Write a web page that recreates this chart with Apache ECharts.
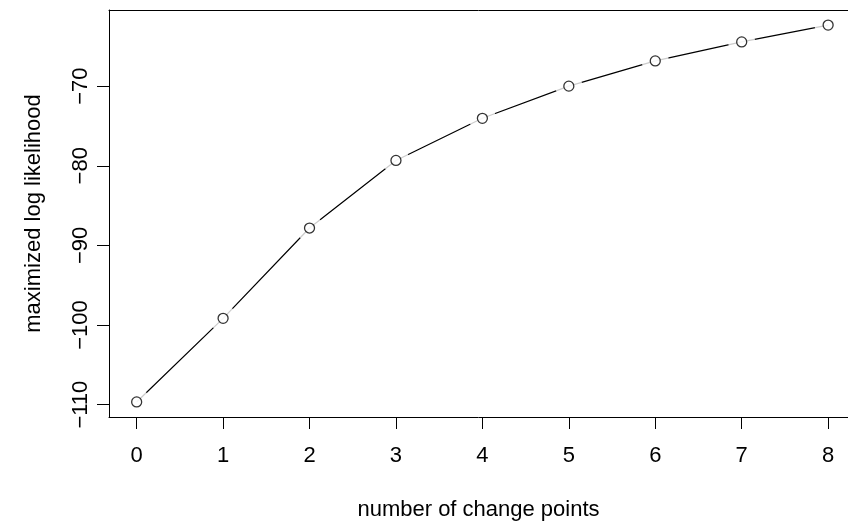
<!DOCTYPE html>
<html>
<head>
<meta charset="utf-8">
<script src="https://cdn.jsdelivr.net/npm/echarts@6/dist/echarts.min.js"></script>
<style>
  html, body { margin: 0; padding: 0; background: #fff; }
  #main { width: 848px; height: 526px; }
</style>
</head>
<body>
<div id="main"></div>
<script>
  // number of change points vs maximized log likelihood
  const changePoints = [0, 1, 2, 3, 4, 5, 6, 7, 8];
  const logLik = [-109.66, -99.16, -87.82, -79.33, -74.04, -70.0, -66.83, -64.45, -62.33];
  const xTicks = [0, 1, 2, 3, 4, 5, 6, 7, 8];
  const yTicks = [-110, -100, -90, -80, -70];

  const points = changePoints.map((x, i) => [x, logLik[i]]);
  const font = '"Liberation Sans", Arial, Helvetica, sans-serif';
  const minus = v => String(v).replace('-', '\u2212');
  const black = { color: '#000', width: 1 };

  // plot box runs past the right edge of the picture, as in the original
  const xMin = -0.32, xMax = 8.23;
  const yMin = -111.55, yMax = -60.44;

  const chart = echarts.init(document.getElementById('main'));
  chart.setOption({
    animation: false,
    backgroundColor: '#fff',
    grid: { left: 109, top: 10, right: 0, bottom: 107 },
    xAxis: [
      {
        type: 'value',
        min: xMin, max: xMax,
        name: 'number of change points',
        nameLocation: 'middle',
        nameGap: 82,
        nameTextStyle: { fontFamily: font, fontSize: 22, color: '#000' },
        splitLine: { show: false },
        axisLine: { show: true, onZero: false, lineStyle: black },
        axisTick: { show: true, customValues: xTicks, length: 12, lineStyle: black },
        axisLabel: { customValues: xTicks, fontFamily: font, fontSize: 22, color: '#000', margin: 28 }
      },
      {
        // top edge of the box
        type: 'value',
        position: 'top',
        min: xMin, max: xMax,
        splitLine: { show: false },
        axisLine: { show: true, onZero: false, lineStyle: black },
        axisTick: { show: false },
        axisLabel: { show: false }
      }
    ],
    yAxis: {
      type: 'value',
      min: yMin, max: yMax,
      name: 'maximized log likelihood',
      nameLocation: 'middle',
      nameGap: 64,
      nameRotate: 90,
      nameTextStyle: { fontFamily: font, fontSize: 22, color: '#000' },
      splitLine: { show: false },
      axisLine: { show: true, onZero: false, lineStyle: black },
      axisTick: { show: true, customValues: yTicks, length: 12, lineStyle: black },
      axisLabel: {
        customValues: yTicks, rotate: 90, fontFamily: font, fontSize: 22, color: '#000', margin: 17,
        formatter: minus
      }
    },
    series: [
      {
        type: 'line',
        data: points,
        symbol: 'none',
        lineStyle: { color: '#000', width: 1.2 },
        z: 2
      },
      {
        // white halo: gaps in the line around each point
        type: 'scatter',
        data: points,
        symbol: 'circle',
        symbolSize: 27,
        itemStyle: { color: '#fff' },
        silent: true,
        z: 3
      },
      {
        type: 'scatter',
        data: points,
        symbol: 'circle',
        symbolSize: 10,
        itemStyle: { color: '#fff', borderColor: '#000', borderWidth: 1.3 },
        z: 4
      }
    ]
  });
</script>
</body>
</html>
